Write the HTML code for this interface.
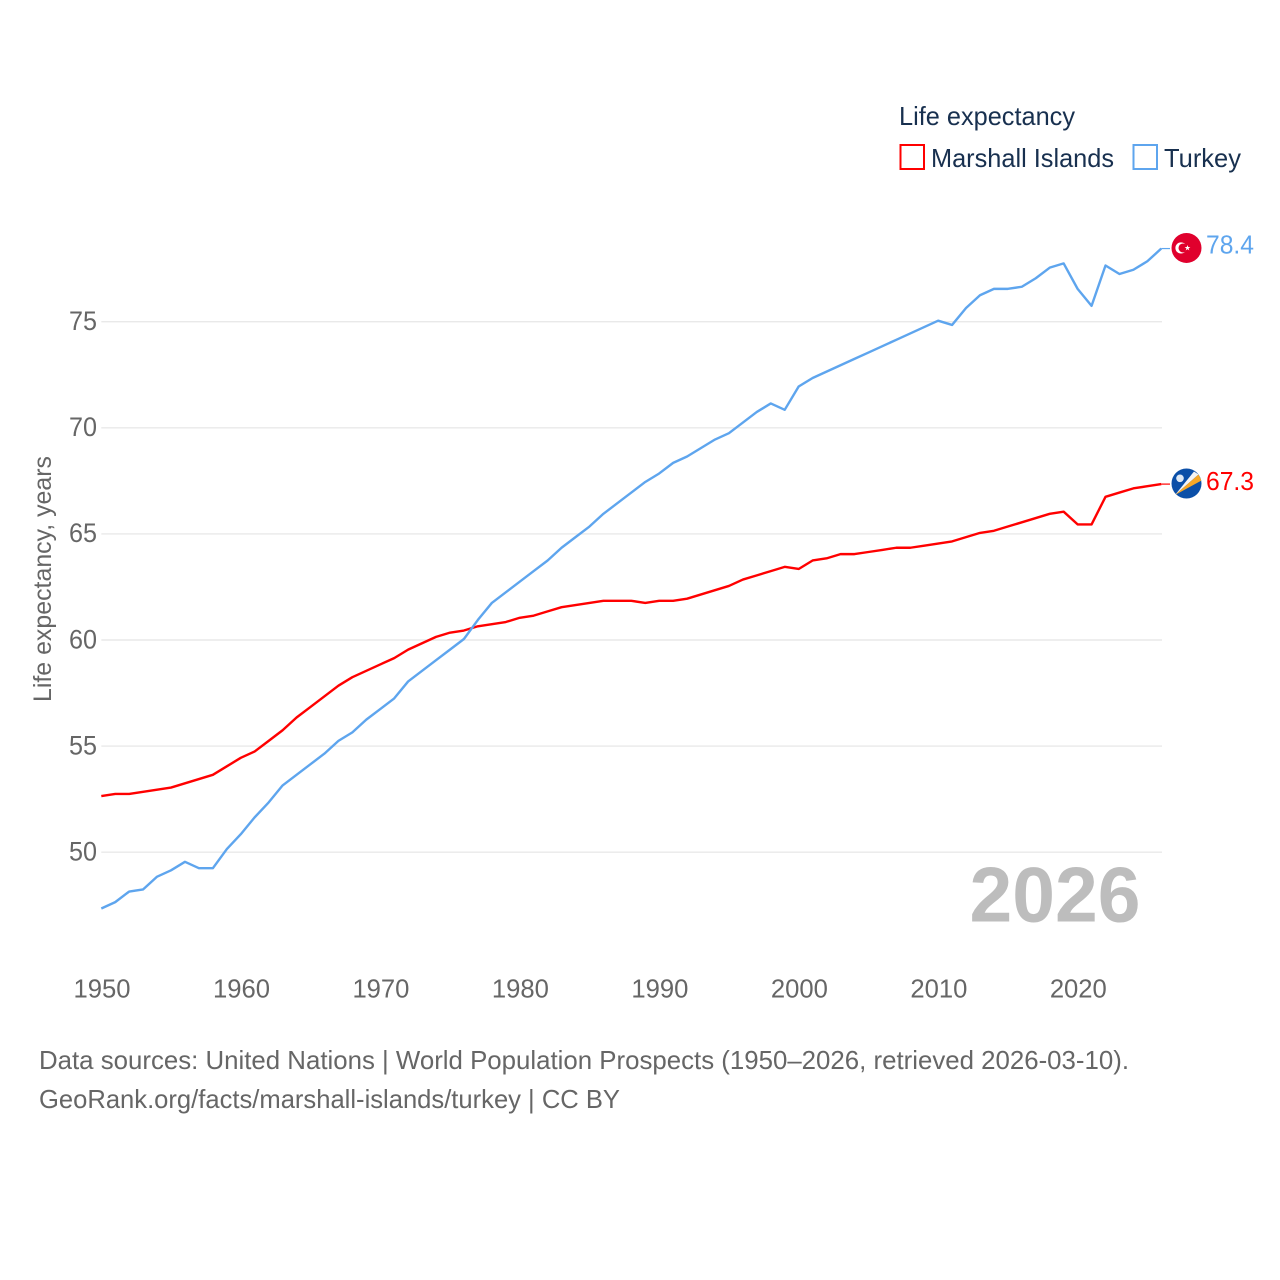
<!DOCTYPE html>
<html lang="en">
<head>
<meta charset="utf-8">
<title>Life expectancy: Marshall Islands and Turkey</title>
<style>
html,body{margin:0;padding:0;background:#fff;width:1280px;height:1280px;overflow:hidden}
svg{display:block}
text{font-family:"Liberation Sans",sans-serif}
</style>
</head>
<body>
<svg id="chart" width="1280" height="1280" viewBox="0 0 1280 1280" xmlns="http://www.w3.org/2000/svg">
  <rect width="1280" height="1280" fill="#ffffff"/>
  <g id="grid"></g>
  <g id="yticks"></g>
  <g id="xticks"></g>
  <text transform="translate(51,702) rotate(-90)" font-size="25" fill="#666666" textLength="246" lengthAdjust="spacingAndGlyphs">Life expectancy, years</text>
  <text x="969.5" y="921.5" font-size="78" font-weight="700" fill="#bdbdbd" textLength="171" lengthAdjust="spacingAndGlyphs">2026</text>
  <g id="series"></g>

  <g>
    <text x="899" y="125" font-size="26" fill="#18304f" textLength="176" lengthAdjust="spacingAndGlyphs">Life expectancy</text>
    <rect x="900.5" y="145" width="23.5" height="24" fill="none" stroke="#ff0000" stroke-width="2"/>
    <text x="931" y="167" font-size="26" fill="#18304f" textLength="183" lengthAdjust="spacingAndGlyphs">Marshall Islands</text>
    <rect x="1133.5" y="145" width="23.5" height="24" fill="none" stroke="#5ea5ee" stroke-width="2"/>
    <text x="1164" y="167" font-size="26" fill="#18304f" textLength="77" lengthAdjust="spacingAndGlyphs">Turkey</text>
  </g>

  <g id="turkey-flag">
    <circle cx="1186.5" cy="249" r="15" fill="#e0002d"/>
    <circle cx="1181" cy="249" r="5.6" fill="#ffffff"/>
    <circle cx="1183" cy="249" r="4.5" fill="#e0002d"/>
    <polygon points="1187.5,246 1188.2,248.1 1190.4,248.1 1188.6,249.4 1189.3,251.5 1187.5,250.2 1185.7,251.5 1186.4,249.4 1184.6,248.1 1186.8,248.1" fill="#ffffff"/>
  </g>
  <g id="marshall-flag">
    <clipPath id="mclip"><circle cx="1186.5" cy="484" r="15"/></clipPath>
    <circle cx="1186.5" cy="484" r="15" fill="#0b4fa8"/>
    <g clip-path="url(#mclip)">
      <polygon points="1175,495.5 1194,472 1198.5,475" fill="#f5f5f5"/>
      <polygon points="1175,495.5 1198.5,475 1201.5,481" fill="#f7a827"/>
    </g>
    <circle cx="1180" cy="478.8" r="3.8" fill="#dfe9f5"/>
  </g>
  <text id="turkey-value" x="1206" y="254" font-size="25.5" fill="#5ea5ee" textLength="48" lengthAdjust="spacingAndGlyphs"></text>
  <text id="marshall-value" x="1206" y="490" font-size="25.5" fill="#ff0000" textLength="48" lengthAdjust="spacingAndGlyphs"></text>

  <g>
    <text x="39" y="1069" font-size="26" fill="#666666" textLength="1090" lengthAdjust="spacingAndGlyphs">Data sources: United Nations | World Population Prospects (1950–2026, retrieved 2026-03-10).</text>
    <text x="39" y="1108" font-size="26" fill="#666666" textLength="581" lengthAdjust="spacingAndGlyphs">GeoRank.org/facts/marshall-islands/turkey | CC BY</text>
  </g>
</svg>
<script>
const firstYear = 1950;
const xTickValues = [1950, 1960, 1970, 1980, 1990, 2000, 2010, 2020];
const yTickValues = [50, 55, 60, 65, 70, 75];
const turkeyValues = [47.3,47.6,48.1,48.2,48.8,49.1,49.5,49.2,49.2,50.1,50.8,51.6,52.3,53.1,53.6,54.1,54.6,55.2,55.6,56.2,56.7,57.2,58.0,58.5,59.0,59.5,60.0,60.9,61.7,62.2,62.7,63.2,63.7,64.3,64.8,65.3,65.9,66.4,66.9,67.4,67.8,68.3,68.6,69.0,69.4,69.7,70.2,70.7,71.1,70.8,71.9,72.3,72.6,72.9,73.2,73.5,73.8,74.1,74.4,74.7,75.0,74.8,75.6,76.2,76.5,76.5,76.6,77.0,77.5,77.7,76.5,75.7,77.6,77.2,77.4,77.8,78.4];
const marshallValues = [52.6,52.7,52.7,52.8,52.9,53.0,53.2,53.4,53.6,54.0,54.4,54.7,55.2,55.7,56.3,56.8,57.3,57.8,58.2,58.5,58.8,59.1,59.5,59.8,60.1,60.3,60.4,60.6,60.7,60.8,61.0,61.1,61.3,61.5,61.6,61.7,61.8,61.8,61.8,61.7,61.8,61.8,61.9,62.1,62.3,62.5,62.8,63.0,63.2,63.4,63.3,63.7,63.8,64.0,64.0,64.1,64.2,64.3,64.3,64.4,64.5,64.6,64.8,65.0,65.1,65.3,65.5,65.7,65.9,66.0,65.4,65.4,66.7,66.9,67.1,67.2,67.3];

const NS = 'http://www.w3.org/2000/svg';
const plotLeft = 101.3;
const plotRight = 1161.3;
const lastYear = firstYear + turkeyValues.length - 1;

function xScale(year) {
  return plotLeft + (year - firstYear) * (plotRight - plotLeft) / (2026 - 1950);
}
function yScale(value) {
  return 852.2 - (value - 50) * 21.22;
}
function seriesY(value) {
  return yScale(value) - 1;
}
function make(tag, attrs, parent) {
  const el = document.createElementNS(NS, tag);
  for (const k in attrs) el.setAttribute(k, attrs[k]);
  parent.appendChild(el);
  return el;
}

const grid = document.getElementById('grid');
const yticks = document.getElementById('yticks');
const xticks = document.getElementById('xticks');
const series = document.getElementById('series');

yTickValues.forEach(function (v) {
  const line = make('line', {x1: plotLeft, x2: plotRight + 0.7, y1: yScale(v), y2: yScale(v), stroke: '#e9e9e9', 'stroke-width': 1.4}, grid);
  
  
  const label = make('text', {x: 69, y: yScale(v) + 8.3, 'font-size': 26.5, fill: '#666666', textLength: 28, lengthAdjust: 'spacingAndGlyphs'}, yticks);
  label.textContent = String(v);
  
  
});

xTickValues.forEach(function (y) {
  const label = make('text', {x: xScale(y) + 0.7 - 28.5, y: 997.7, 'font-size': 26.2, fill: '#666666', textLength: 57, lengthAdjust: 'spacingAndGlyphs'}, xticks);
  label.textContent = String(y);
  
  
});

function drawSeries(values, color, name) {
  const pts = values.map(function (v, i) {
    return xScale(firstYear + i).toFixed(2) + ',' + seriesY(v).toFixed(2);
  }).join(' ');
  const line = make('polyline', {points: pts, fill: 'none', stroke: color, 'stroke-width': 2.4, 'stroke-linejoin': 'round'}, series);
  
  
  const endY = seriesY(values[values.length - 1]);
  const connector = make('line', {x1: xScale(lastYear), x2: 1170, y1: endY, y2: endY, stroke: color, 'stroke-width': 1.2}, series);
  
  
  return endY;
}

const marshallEndY = drawSeries(marshallValues, '#ff0000', 'marshall-islands');
const turkeyEndY = drawSeries(turkeyValues, '#5ea5ee', 'turkey');

const turkeyLabel = document.getElementById('turkey-value');
turkeyLabel.textContent = turkeyValues[turkeyValues.length - 1].toFixed(1);
turkeyLabel.setAttribute('y', turkeyEndY + 5);
const marshallLabel = document.getElementById('marshall-value');
marshallLabel.textContent = marshallValues[marshallValues.length - 1].toFixed(1);
marshallLabel.setAttribute('y', marshallEndY + 6);
document.getElementById('turkey-flag').setAttribute('transform', 'translate(0,' + (turkeyEndY - 249.6) + ')');
document.getElementById('marshall-flag').setAttribute('transform', 'translate(0,' + (marshallEndY - 484.6) + ')');
</script>
</body>
</html>
